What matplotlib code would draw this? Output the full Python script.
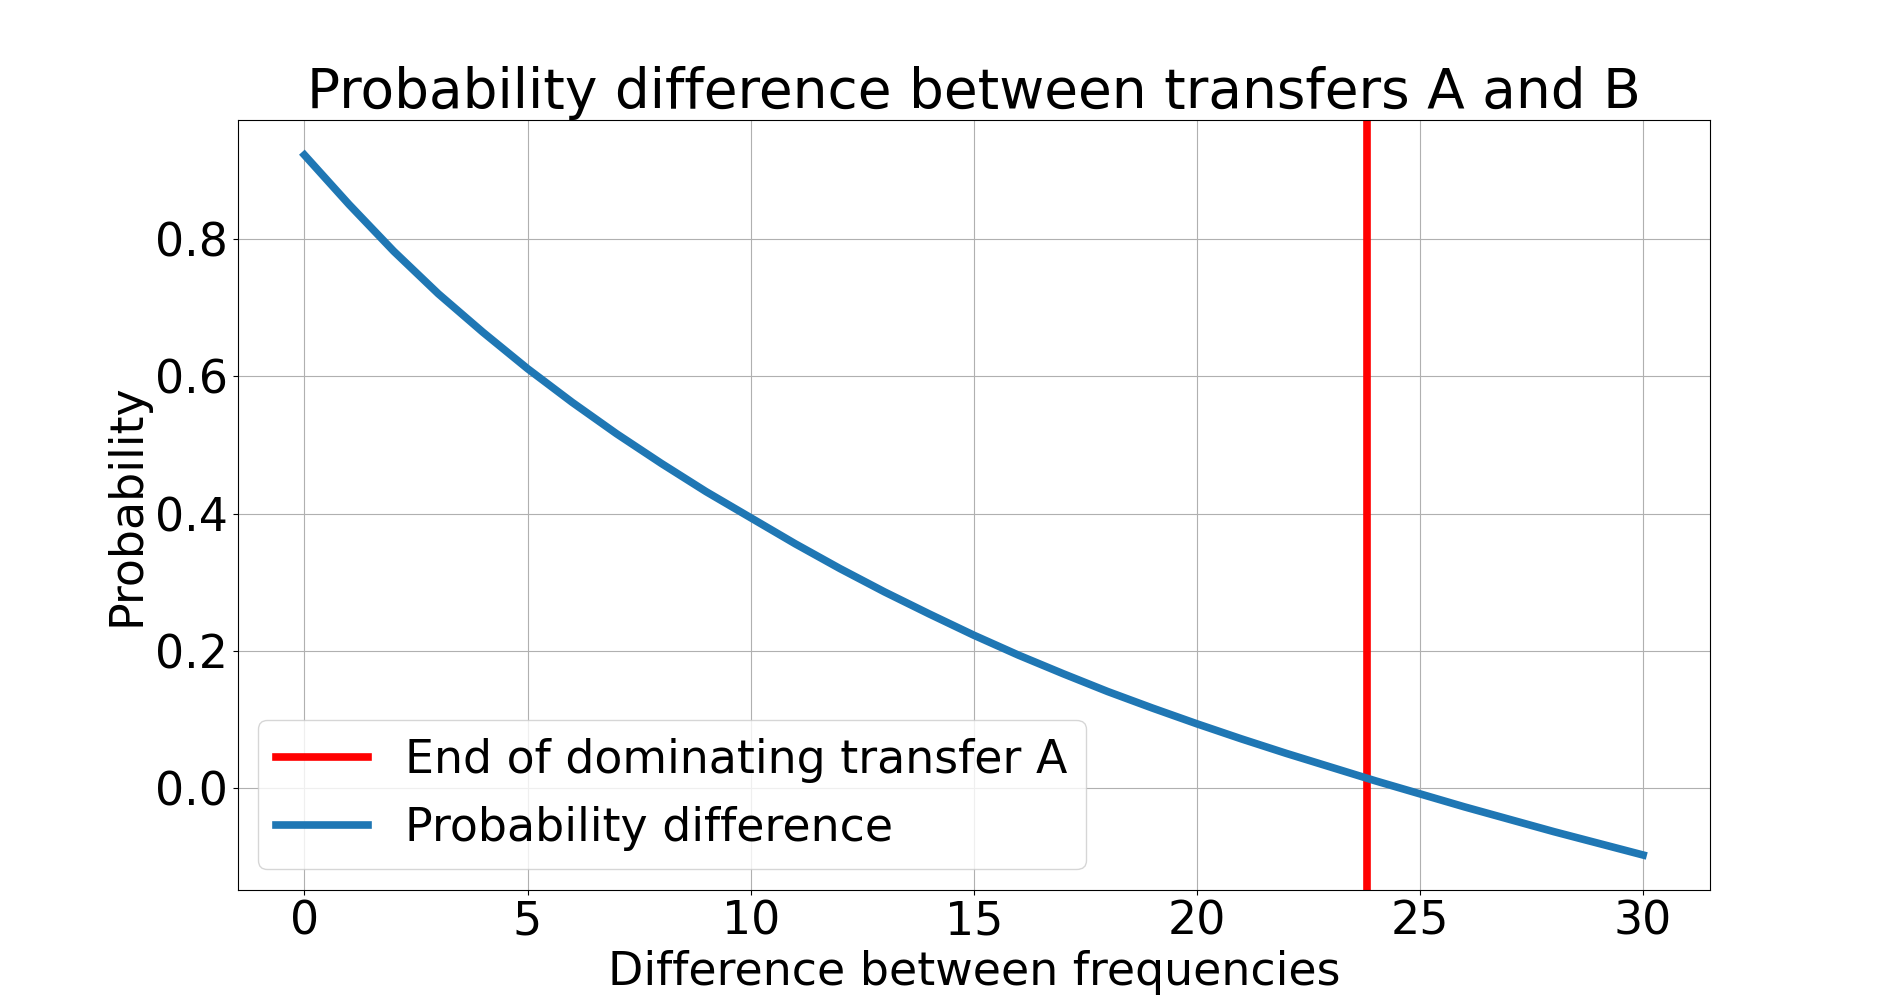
import matplotlib
matplotlib.use("Agg")
import matplotlib.pyplot as plt

# Data
freq_diff = [0, 1, 2, 3, 4, 5, 6, 7, 8, 9, 10, 11, 12, 13, 14, 15,
             16, 17, 18, 19, 20, 21, 22, 23, 24, 25, 26, 27, 28, 29, 30]
prob_diff = [0.922, 0.850, 0.782, 0.720, 0.664, 0.611, 0.562, 0.516, 0.473,
             0.432, 0.394, 0.356, 0.320, 0.286, 0.254, 0.223, 0.194, 0.167,
             0.141, 0.117, 0.094, 0.072, 0.051, 0.031, 0.011, -0.008, -0.027,
             -0.045, -0.063, -0.080, -0.097]
end_dominating_A = 23.82

title = "Probability difference between transfers A and B"
xlabel = "Difference between frequencies"
ylabel = "Probability"
label_red = "End of dominating transfer A"
label_blue = "Probability difference"

fig, ax = plt.subplots(figsize=(19, 10), dpi=100)
ax.axvline(end_dominating_A, color="red", linewidth=5.5, label=label_red)
ax.plot(freq_diff, prob_diff, color="#1f77b4", linewidth=5.5, label=label_blue)

ax.set_title(title, fontsize=39.6)
ax.set_xlabel(xlabel, fontsize=33)
ax.set_ylabel(ylabel, fontsize=33)
ax.tick_params(labelsize=33)
ax.grid(True)
ax.legend(loc="lower left", fontsize=33, borderaxespad=0.45)

fig.savefig("out.png", dpi=100)
